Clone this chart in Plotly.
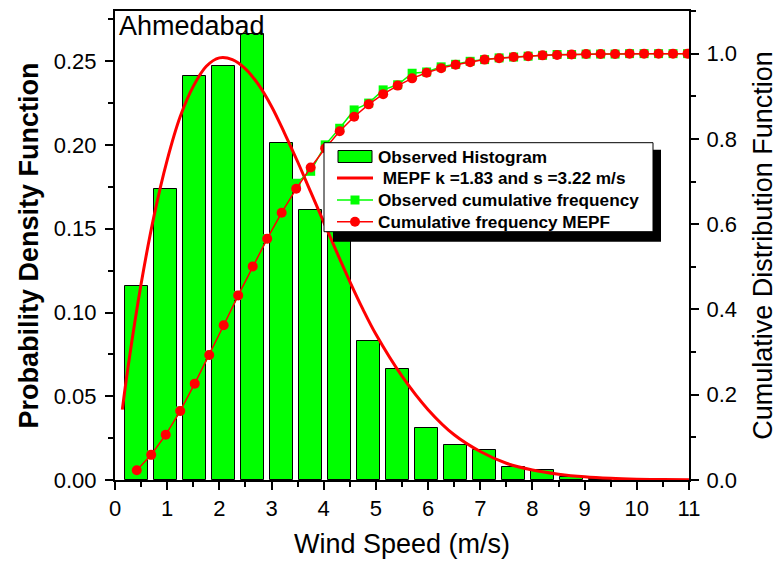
import plotly.graph_objects as go

# ---------------- data ----------------
bin_centers = [0.417, 0.972, 1.528, 2.083, 2.639, 3.194, 3.750, 4.306, 4.861,
               5.417, 5.972, 6.528, 7.083, 7.639, 8.194, 8.750, 9.306]
observed_pdf = [0.116, 0.174, 0.241, 0.247, 0.266, 0.201, 0.161, 0.155, 0.083,
                0.066, 0.031, 0.021, 0.018, 0.008, 0.006, 0.0016, 0.0006]

curve_x = [0.14, 0.25, 0.5, 0.75, 1.0, 1.25, 1.5, 1.75, 2.0, 2.25, 2.5, 2.75,
           3.0, 3.25, 3.5, 3.75, 4.0, 4.25, 4.5, 4.75, 5.0, 5.5, 6.0, 6.5,
           7.0, 7.5, 8.0, 8.5, 9.0, 9.5, 10.0, 10.5, 11.0]
mepf_pdf = [0.042, 0.0675, 0.117, 0.158, 0.191, 0.217, 0.235, 0.247, 0.252,
            0.251, 0.2455, 0.236, 0.223, 0.207, 0.190, 0.172, 0.154, 0.136,
            0.1185, 0.102, 0.087, 0.062, 0.042, 0.027, 0.017, 0.010, 0.006,
            0.0035, 0.0019, 0.0010, 0.0005, 0.00025, 0.00012]

cum_x = [0.417, 0.694, 0.972, 1.250, 1.528, 1.806, 2.083, 2.361, 2.639, 2.917,
         3.194, 3.472, 3.750, 4.028, 4.306, 4.583, 4.861, 5.139, 5.417, 5.694,
         5.972, 6.250, 6.528, 6.806, 7.083, 7.361, 7.639, 7.917, 8.194, 8.472,
         8.750, 9.028, 9.306, 9.583, 9.861, 10.139, 10.417, 10.694, 10.972]
observed_cum = [0.023, 0.059, 0.106, 0.162, 0.226, 0.293, 0.363, 0.433, 0.501,
                0.566, 0.627, 0.696, 0.724, 0.786, 0.825, 0.868, 0.884, 0.915,
                0.927, 0.954, 0.957, 0.969, 0.975, 0.982, 0.986, 0.990, 0.992,
                0.994, 0.996, 0.998, 0.998, 0.999, 0.999, 0.999, 1.0, 1.0,
                1.0, 1.0, 1.0]
mepf_cum = [0.023, 0.059, 0.106, 0.162, 0.226, 0.293, 0.363, 0.433, 0.501,
            0.566, 0.627, 0.683, 0.733, 0.778, 0.818, 0.852, 0.881, 0.905,
            0.925, 0.942, 0.955, 0.966, 0.974, 0.980, 0.986, 0.989, 0.992,
            0.994, 0.996, 0.997, 0.998, 0.999, 0.999, 0.999, 1.0, 1.0, 1.0,
            1.0, 1.0]

x_ticks = list(range(0, 12))

legend_labels = ["Observed Histogram", "\u00a0MEPF k =1.83 and s =3.22 m/s",
                 "Observed cumulative frequency", "Cumulative frequency MEPF"]

# ---------------- layout geometry ----------------
W, H = 778, 562
L, R, T, B = 115, 89, 11, 82
PW, PH = W - L - R, H - T - B


def px(xp):
    return (xp - L) / PW


def py(yp):
    return (H - B - yp) / PH


FONT = "Arial, Liberation Sans, Helvetica, sans-serif"
GREEN = "#00FF00"
RED = "#FF0000"

fig = go.Figure()

fig.add_trace(go.Bar(
    x=bin_centers, y=observed_pdf, width=0.44,
    marker=dict(color=GREEN, line=dict(color="black", width=1)),
    name=legend_labels[0], yaxis="y"))

fig.add_trace(go.Scatter(
    x=curve_x, y=mepf_pdf, mode="lines", line=dict(color=RED, width=3, shape="spline"),
    name=legend_labels[1], yaxis="y"))

fig.add_trace(go.Scatter(
    x=cum_x, y=observed_cum, mode="lines+markers",
    line=dict(color=GREEN, width=1.5),
    marker=dict(symbol="square", size=9, color=GREEN),
    name=legend_labels[2], yaxis="y2"))

fig.add_trace(go.Scatter(
    x=cum_x, y=mepf_cum, mode="lines+markers",
    line=dict(color=RED, width=1.5),
    marker=dict(symbol="circle", size=10, color=RED),
    name=legend_labels[3], yaxis="y2"))

axis_common = dict(showgrid=False, zeroline=False, showline=True, linecolor="black",
                   linewidth=2, ticks="outside", ticklen=8, tickwidth=1.5,
                   tickcolor="black", tickfont=dict(family=FONT, size=22, color="black"),
                   automargin=False)

# ---------------- hand-drawn legend (box, shadow, symbols, labels) ----------------
LB_L, LB_T, LB_R, LB_B = 324, 142.7, 653, 231.7
rows = [156.5, 178, 200, 221.7]
sym_x0, sym_x1, sym_xc = 337, 373, 355

shapes = [
    dict(type="rect", xref="paper", yref="paper",
         x0=px(LB_L + 9), x1=px(LB_R + 8), y0=py(LB_B + 10), y1=py(LB_T + 7),
         fillcolor="black", line=dict(width=0), layer="above"),
    dict(type="rect", xref="paper", yref="paper",
         x0=px(LB_L), x1=px(LB_R), y0=py(LB_B), y1=py(LB_T),
         fillcolor="white", line=dict(color="black", width=1), layer="above"),
    # histogram swatch
    dict(type="rect", xref="paper", yref="paper",
         x0=px(338), x1=px(372), y0=py(rows[0] + 6), y1=py(rows[0] - 6),
         fillcolor=GREEN, line=dict(color="black", width=1), layer="above"),
    # MEPF line
    dict(type="line", xref="paper", yref="paper",
         x0=px(sym_x0), x1=px(sym_x1), y0=py(rows[1]), y1=py(rows[1]),
         line=dict(color=RED, width=3), layer="above"),
    # observed cumulative line + square
    dict(type="line", xref="paper", yref="paper",
         x0=px(sym_x0), x1=px(sym_x1), y0=py(rows[2]), y1=py(rows[2]),
         line=dict(color=GREEN, width=1.5), layer="above"),
    dict(type="rect", xref="paper", yref="paper",
         x0=px(sym_xc - 4.5), x1=px(sym_xc + 4.5), y0=py(rows[2] + 4.5), y1=py(rows[2] - 4.5),
         fillcolor=GREEN, line=dict(width=0), layer="above"),
    # MEPF cumulative line + circle
    dict(type="line", xref="paper", yref="paper",
         x0=px(sym_x0), x1=px(sym_x1), y0=py(rows[3]), y1=py(rows[3]),
         line=dict(color=RED, width=1.5), layer="above"),
    dict(type="circle", xref="paper", yref="paper",
         x0=px(sym_xc - 5), x1=px(sym_xc + 5), y0=py(rows[3] + 5), y1=py(rows[3] - 5),
         fillcolor=RED, line=dict(width=0), layer="above"),
]

annotations = [dict(text="Ahmedabad", xref="paper", yref="paper",
                    x=px(117), y=py(26), xanchor="left", yanchor="middle",
                    showarrow=False, font=dict(family=FONT, size=27, color="black"))]
for lab, ry in zip(legend_labels, rows):
    annotations.append(dict(text="<b>" + lab + "</b>", xref="paper", yref="paper",
                            x=px(376), y=py(ry), xanchor="left", yanchor="middle",
                            showarrow=False,
                            font=dict(family=FONT, size=17.2, color="black")))

fig.update_layout(
    width=W, height=H,
    margin=dict(l=L, r=R, t=T, b=B),
    paper_bgcolor="white", plot_bgcolor="white",
    font=dict(family=FONT, color="black"),
    bargap=0,
    showlegend=False,
    xaxis=dict(range=[0, 11], tickvals=x_ticks, mirror=True,
               minor=dict(dtick=0.5, ticklen=5, tickwidth=1.5, ticks="outside", tickcolor="black"),
               title=dict(text="Wind Speed (m/s)", font=dict(family=FONT, size=27), standoff=14),
               **axis_common),
    yaxis=dict(range=[0, 0.28], dtick=0.05, tick0=0, tickformat=".2f",
               ticklabelstandoff=4,
               minor=dict(dtick=0.025, ticklen=5, tickwidth=1.5, ticks="outside", tickcolor="black"),
               title=dict(text="<b>Probability Density Function</b>",
                          font=dict(family=FONT, size=27), standoff=7),
               **axis_common),
    yaxis2=dict(range=[0, 1.1], dtick=0.2, tick0=0, tickformat=".1f",
                overlaying="y", side="right", ticklabelstandoff=3,
                minor=dict(dtick=0.1, ticklen=5, tickwidth=1.5, ticks="outside", tickcolor="black"),
                title=dict(text="Cumulative Distribution Function",
                           font=dict(family=FONT, size=27), standoff=18),
                **axis_common),
    annotations=annotations,
    shapes=shapes,
)

fig.write_html("out.html")
